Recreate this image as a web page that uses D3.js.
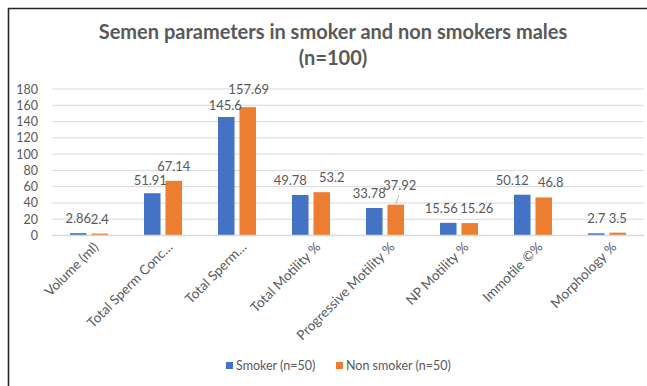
<!DOCTYPE html>
<html>
<head>
<meta charset="utf-8">
<script src="https://cdn.jsdelivr.net/npm/d3@7/dist/d3.min.js"></script>
<style>
  html, body { margin: 0; padding: 0; background: #fff; }
  svg { display: block; font-family: Lato, "Open Sans", sans-serif; }
</style>
</head>
<body>
<svg id="chart" width="647" height="386"></svg>
<script>
// Semen parameters, smokers vs non-smokers
const categories = [
  "Volume (ml)",
  "Total Sperm Conc\u2026",
  "Total Sperm\u2026",
  "Total Motility %",
  "Progressive Motility %",
  "NP Motility %",
  "Immotile \u00A9%",
  "Morphology %"
];
const seriesNames = ["Smoker (n=50)", "Non smoker (n=50)"];
const smoker    = [2.86, 51.91, 145.6, 49.78, 33.78, 15.56, 50.12, 2.7];
const nonSmoker = [2.4, 67.14, 157.69, 53.2, 37.92, 15.26, 46.8, 3.5];
const yTicks = [0, 20, 40, 60, 80, 100, 120, 140, 160, 180];

// Small label nudges (dx, dy in px) so neighbouring value labels do not collide
const labelNudge = {
  "0-1": [-2, 2], "0-2": [-1, 3], "1-2": [1, -3],
  "0-3": [-10, 0], "1-3": [10, 0],
  "0-4": [-5, 0], "1-4": [4, -5],
  "0-5": [-7, 0], "1-5": [7, 0],
  "0-6": [-10, 0], "1-6": [7, 0]
};

const colors = ["#4472C4", "#ED7D31"];
const textGray = "#595959";

const svg = d3.select("#chart");
const margin = { left: 52, right: 3, top: 89, bottom: 150.5 };
const W = 647, H = 386;

const x0 = d3.scaleBand()
  .domain(categories)
  .range([margin.left, W - margin.right])
  .paddingInner(0).paddingOuter(0);

const x1 = d3.scaleBand()
  .domain(seriesNames)
  .range([x0.bandwidth() * 0.243, x0.bandwidth() * 0.757])
  .paddingInner(0.23).paddingOuter(0);

const y = d3.scaleLinear().domain([0, 180]).range([H - margin.bottom, margin.top]);

// Chart frame
svg.append("path")
  .attr("d", `M8.5,${H} V8.5 H${W}`)
  .attr("fill", "none").attr("stroke", "#262626").attr("stroke-width", 1.6);

// Title
const title = svg.append("text")
  .attr("x", 333).attr("text-anchor", "middle")
  .attr("fill", textGray).attr("font-weight", "bold").attr("font-size", 20);
title.append("tspan").attr("x", 333).attr("y", 39).text("Semen parameters in smoker and non smokers males");
title.append("tspan").attr("x", 333).attr("y", 65).text("(n=100)");

// Gridlines
svg.append("g")
  .selectAll("line").data(yTicks.filter(t => t > 0)).join("line")
  .attr("x1", margin.left).attr("x2", W - margin.right)
  .attr("y1", d => y(d)).attr("y2", d => y(d))
  .attr("stroke", "#d9d9d9").attr("stroke-width", 1);

// Y axis labels
const yAxis = d3.axisLeft(y).tickValues(yTicks).tickSize(0).tickPadding(0);
const gy = svg.append("g").attr("transform", "translate(38,0)").call(yAxis);
gy.select(".domain").remove();
gy.selectAll("text").attr("fill", textGray).attr("font-size", 12.5)
  .attr("font-family", "Lato, sans-serif");

// Bars
const rows = categories.map((c, i) => ({ cat: c, i, vals: [smoker[i], nonSmoker[i]] }));
const groups = svg.append("g").selectAll("g").data(rows).join("g")
  .attr("transform", d => `translate(${x0(d.cat)},0)`);

groups.selectAll("rect")
  .data(d => d.vals.map((v, s) => ({ v, s, i: d.i })))
  .join("rect")
  .attr("x", d => x1(seriesNames[d.s]))
  .attr("width", x1.bandwidth())
  .attr("y", d => y(d.v))
  .attr("height", d => y(0) - y(d.v))
  .attr("fill", d => colors[d.s]);

// Value labels
groups.selectAll("text.val")
  .data(d => d.vals.map((v, s) => ({ v, s, i: d.i })))
  .join("text").attr("class", "val")
  .attr("x", d => x1(seriesNames[d.s]) + x1.bandwidth() / 2 + (labelNudge[d.s + "-" + d.i] || [0, 0])[0])
  .attr("y", d => y(d.v) - 10 + (labelNudge[d.s + "-" + d.i] || [0, 0])[1])
  .attr("text-anchor", "middle")
  .attr("fill", textGray).attr("font-size", 13)
  .text(d => String(d.v));

// Leader line for the nudged progressive-motility label
{
  const i = 4, cx = x0(categories[i]) + x1(seriesNames[1]) + x1.bandwidth() / 2;
  const top = y(nonSmoker[i]);
  svg.append("line")
    .attr("x1", cx + 3).attr("y1", top - 9.5)
    .attr("x2", cx).attr("y2", top - 0.5)
    .attr("stroke", "#a6a6a6").attr("stroke-width", 0.8);
}

// X axis line
svg.append("line")
  .attr("x1", margin.left).attr("x2", W - margin.right)
  .attr("y1", y(0)).attr("y2", y(0))
  .attr("stroke", "#d9d9d9").attr("stroke-width", 1.5);

// Category labels, rotated
svg.append("g").selectAll("text").data(categories).join("text")
  .attr("transform", d => `translate(${x0(d) + x0.bandwidth() / 2 + 7},${y(0) + 9}) rotate(-45)`)
  .attr("text-anchor", "end").attr("dy", "0.35em")
  .attr("fill", textGray).attr("font-size", 13.5)
  .text(d => d);

// Legend
const legend = svg.append("g").attr("transform", "translate(0,366)");
const legendX = [226, 336];
seriesNames.forEach((n, s) => {
  legend.append("rect").attr("x", legendX[s]).attr("y", -4).attr("width", 7).attr("height", 7)
    .attr("fill", colors[s]);
  legend.append("text").attr("x", legendX[s] + 10).attr("y", 0).attr("dy", "0.35em")
    .attr("fill", textGray).attr("font-size", 12.5).text(n);
});
</script>
</body>
</html>
